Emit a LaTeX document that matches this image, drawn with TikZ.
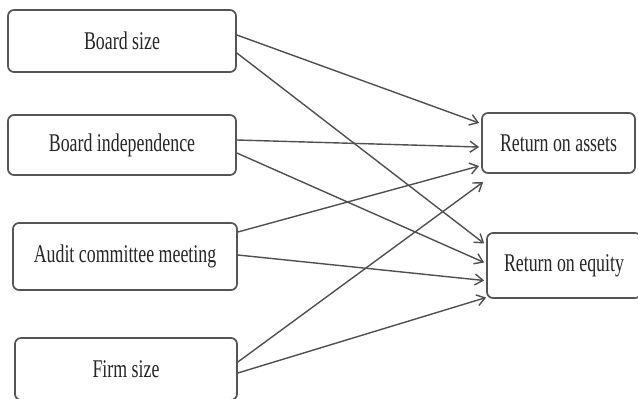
\documentclass[tikz,border=0pt]{standalone}
\usepackage{fontspec}
\setmainfont{Liberation Serif}[FakeStretch=0.7]
\usetikzlibrary{arrows.meta}
\definecolor{linegray}{HTML}{505050}
\definecolor{boxgray}{HTML}{555555}
\tikzset{
  varbox/.style={draw=boxgray, line width=1.7pt, rounded corners=6pt, fill=white,
    inner sep=0pt, font=\fontsize{25.5}{28}\selectfont, text=black!85},
  link/.style={draw=linegray, line width=1.4pt,
    -{Straight Barb[length=8pt,width=11pt,line width=1.4pt]}}
}
\begin{document}
\begin{tikzpicture}[x=1pt,y=-1pt]
\useasboundingbox (0,0) rectangle (638,399);
\clip (0,0) rectangle (638,399);
\fill[white] (0,0) rectangle (638,399);
\node[varbox, minimum width=228pt, minimum height=62pt] (bs) at (122,41) {Board size};
\node[varbox, minimum width=228pt, minimum height=60pt] (bi) at (122,145) {Board independence};
\node[varbox, minimum width=224pt, minimum height=67pt] (ac) at (125,256.5) {Audit committee meeting};
\node[varbox, minimum width=222pt, minimum height=62pt] (fs) at (126,369) {Firm size};
\node[varbox, minimum width=153pt, minimum height=60pt] (roa) at (558.5,143) {Return on assets};
\node[varbox, minimum width=154pt, minimum height=65pt] (roe) at (564,265.5) {Return on equity};
% Board size
\draw[link] ([yshift=6pt]bs.east) -- ([yshift=20pt,xshift=-2pt]roa.west);
\draw[link] ([yshift=-12pt]bs.east) -- ([yshift=22pt,xshift=-2pt]roe.west);
% Board independence
\draw[link] ([yshift=5pt]bi.east) -- ([yshift=-4pt,xshift=-2pt]roa.west);
\draw[link] ([yshift=-8pt]bi.east) -- ([yshift=3pt,xshift=-2pt]roe.west);
% Audit committee meeting
\draw[link] ([yshift=24.5pt]ac.east) -- ([yshift=-23pt,xshift=-2pt]roa.west);
\draw[link] ([yshift=1.5pt]ac.east) -- ([yshift=-15pt,xshift=-2pt]roe.west);
% Firm size
\draw[link] ([yshift=7pt]fs.east) -- ([yshift=-39pt,xshift=2pt]roa.west);
\draw[link] ([yshift=-4pt]fs.east) -- ([yshift=-32pt,xshift=0pt]roe.west);
\end{tikzpicture}
\end{document}
